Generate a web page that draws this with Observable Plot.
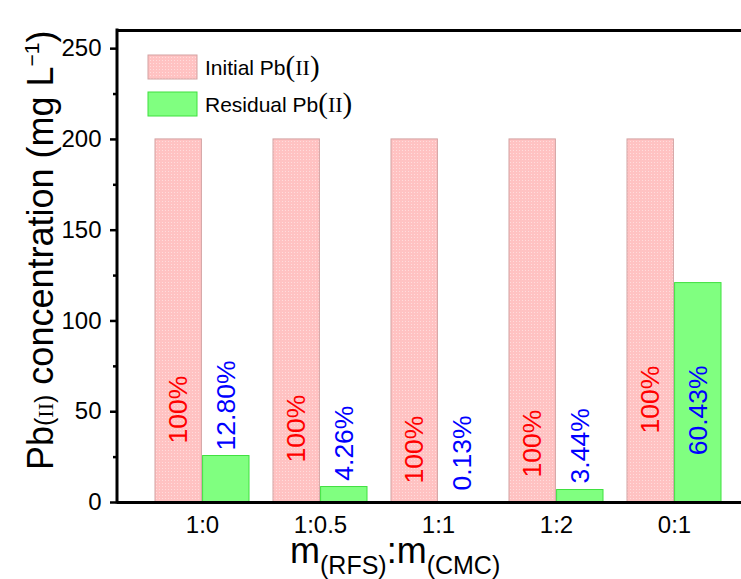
<!DOCTYPE html>
<html><head><meta charset="utf-8">
<script src="https://cdn.jsdelivr.net/npm/d3@7"></script>
<script src="https://cdn.jsdelivr.net/npm/@observablehq/plot@0.6"></script>
<style>body{margin:0;background:#fff} #chart{width:741px;height:579px}</style>
</head><body><div id="chart"></div>
<script>
const ratios = ["1:0", "1:0.5", "1:1", "1:2", "0:1"];
const initial = [200, 200, 200, 200, 200];
const residual = [25.6, 8.52, 0.26, 6.88, 120.86];
const initialLabels = ["100%", "100%", "100%", "100%", "100%"];
const residualLabels = ["12.80%", "4.26%", "0.13%", "3.44%", "60.43%"];
const initialLabelY = [32.5, 22, 10.5, 13.8, 38];
const residualLabelY = [28.7, 12, 6.6, 10.5, 26];
const yTicks = [0, 50, 100, 150, 200, 250];
const yMinorTicks = [25, 75, 125, 175, 225];
const seriesNames = ["Initial Pb", "Residual Pb"];

const rowsI = ratios.map((r, i) => ({ratio: r, value: initial[i], label: initialLabels[i], ly: initialLabelY[i]}));
const rowsR = ratios.map((r, i) => ({ratio: r, value: residual[i], label: residualLabels[i], ly: residualLabelY[i]}));

const FONT = "Arial, 'Liberation Sans', sans-serif";
const SERIF = "'Liberation Serif', 'Times New Roman', serif";
const half = 47.6;

const plot = Plot.plot({
  width: 741, height: 579,
  marginLeft: 117, marginRight: 0, marginTop: 30, marginBottom: 77,
  style: {fontFamily: FONT, background: "white", color: "#000", overflow: "visible"},
  x: {type: "band", domain: ratios, range: [129.2, 748], padding: 0.2, label: null},
  y: {domain: [0, 260], label: null},
  marks: [
    Plot.barY(rowsI, {x: "ratio", y: "value", insetRight: half, fill: "url(#pinkdots)", stroke: "#d3a2a2", strokeWidth: 1}),
    Plot.barY(rowsR, {x: "ratio", y: "value", insetLeft: half, fill: "#80ff80", stroke: "#3fe03f", strokeWidth: 1}),
    Plot.text(rowsI, {x: "ratio", y: "ly", text: "label", dx: -half / 2, rotate: -90, textAnchor: "start", fontSize: 26.5, fill: "#ff0000"}),
    Plot.text(rowsR, {x: "ratio", y: "ly", text: "label", dx: half / 2, rotate: -90, textAnchor: "start", fontSize: 26.5, fill: "#0000ff"}),
    Plot.axisY({ticks: yTicks, tickSize: 7, tickPadding: 9, fontSize: 24, strokeWidth: 2.5, label: null}),
    Plot.axisY({ticks: yMinorTicks, tickSize: 4, text: null, strokeWidth: 2.5, label: null}),
    Plot.axisX({tickSize: 0, tickPadding: 13, fontSize: 24, label: null}),
    Plot.ruleY([0], {strokeWidth: 3}),
    Plot.ruleY([260], {strokeWidth: 3})
  ]
});

document.getElementById("chart").appendChild(plot);
const svg = d3.select(plot);

// pattern for initial bars
const defs = svg.insert("defs", ":first-child");
const pat = defs.append("pattern").attr("id", "pinkdots").attr("patternUnits", "userSpaceOnUse").attr("width", 3).attr("height", 3);
pat.append("rect").attr("width", 3).attr("height", 3).attr("fill", "#ffc2c2");
pat.append("rect").attr("width", 1).attr("height", 1).attr("fill", "#ffdcdc");

// left frame line
svg.append("line").attr("x1", 117).attr("x2", 117).attr("y1", 28.5).attr("y2", 503.5)
  .attr("stroke", "#000").attr("stroke-width", 3);

// y title
const yt = svg.append("text").attr("transform", "translate(53,470) rotate(-90)")
  .attr("text-anchor", "start").attr("font-family", FONT).attr("font-size", 36).attr("fill", "#000");
yt.append("tspan").text("Pb");
yt.append("tspan").attr("font-size", 25).text("(");
yt.append("tspan").attr("font-size", 22).attr("font-family", SERIF).text("II");
yt.append("tspan").attr("font-size", 25).text(")");
yt.append("tspan").text(" concentration (mg L");
yt.append("tspan").attr("font-size", 21).attr("dy", -14).text("\u22121");
yt.append("tspan").attr("dy", 14).text(")");

// x title
const xt = svg.append("text").attr("x", 290).attr("y", 563).attr("text-anchor", "start")
  .attr("font-family", FONT).attr("font-size", 36).attr("fill", "#000");
xt.append("tspan").text("m");
xt.append("tspan").attr("font-size", 25).attr("dy", 11).text("(RFS)");
xt.append("tspan").attr("dy", -11).text(":m");
xt.append("tspan").attr("font-size", 25).attr("dy", 11).text("(CMC)");

// legend
const legendFills = ["url(#pinkdots)", "#80ff80"];
const legendStrokes = ["#d3a2a2", "#3fe03f"];
const lg = svg.append("g");
seriesNames.forEach((name, i) => {
  const y0 = 55 + i * 37;
  lg.append("rect").attr("x", 148).attr("y", y0).attr("width", 49).attr("height", 24)
    .attr("fill", legendFills[i]).attr("stroke", legendStrokes[i]).attr("stroke-width", 1);
  const t = lg.append("text").attr("x", 205).attr("y", y0 + 20).attr("text-anchor", "start")
    .attr("font-family", FONT).attr("font-size", 21).attr("fill", "#000");
  t.append("tspan").text(name);
  t.append("tspan").attr("font-family", SERIF).attr("font-size", 29).attr("dy", 1).text("(");
  t.append("tspan").attr("font-family", SERIF).attr("font-size", 22).attr("dy", -1).text("II");
  t.append("tspan").attr("font-family", SERIF).attr("font-size", 29).attr("dy", 1).text(")");
});
</script>
</body></html>
